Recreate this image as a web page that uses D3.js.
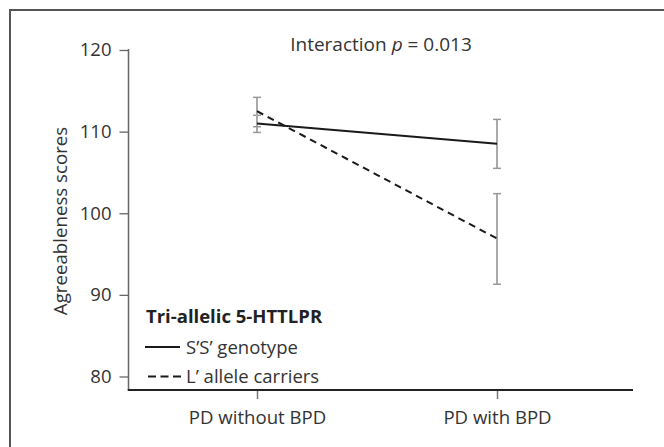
<!DOCTYPE html>
<html><head><meta charset="utf-8">
<script src="https://cdn.jsdelivr.net/npm/d3@7"></script>
<style>
html,body{margin:0;padding:0;background:#fff;}
svg{display:block;font-family:"Open Sans","Noto Sans",sans-serif;}
</style></head>
<body>
<svg id="chart" width="664" height="447"></svg>
<script>
// ---- data ----
const categories = ["PD without BPD", "PD with BPD"];
const seriesNames = ["S\u2019S\u2019 genotype", "L\u2019 allele carriers"];
const ssMeans = [111.0, 108.5];
const ssLow   = [109.9, 105.5];
const ssHigh  = [112.0, 111.5];
const lMeans  = [112.5, 96.9];
const lLow    = [110.6, 91.3];
const lHigh   = [114.2, 102.4];
const yTicks  = [80, 90, 100, 110, 120];
const titleMain = "Interaction ";
const titleP = "p";
const titleRest = " = 0.013";
const yLabel = "Agreeableness scores";
const legendTitle = "Tri-allelic 5-HTTLPR";

const series = [
  {name: seriesNames[0], means: ssMeans, low: ssLow, high: ssHigh, dash: null, legDash: null},
  {name: seriesNames[1], means: lMeans, low: lLow, high: lHigh, dash: "7,5", legDash: "8,4.5"}
];

const svg = d3.select("#chart");
const FONT = '"Open Sans","Noto Sans",sans-serif';

// frame
svg.append("rect").attr("x", 10).attr("y", 10).attr("width", 700).attr("height", 500)
  .attr("fill", "none").attr("stroke", "#555").attr("stroke-width", 2);

const y = d3.scaleLinear().domain([80, 120]).range([376.5, 50]);
const x = d3.scalePoint().domain(categories).range([257, 497]);

const axisX0 = 128.5, axisY0 = 390;

// y axis
const yAxis = svg.append("g").attr("transform", `translate(${axisX0},0)`)
  .call(d3.axisLeft(y).tickValues(yTicks).tickSize(9).tickPadding(8).tickSizeOuter(0));
yAxis.select(".domain").remove();
yAxis.selectAll(".tick line").attr("stroke", "#666").attr("stroke-width", 1.3);
yAxis.selectAll(".tick text").attr("fill", "#333").style("font-size", "18.5px")
  .style("font-family", FONT);
svg.append("line").attr("x1", axisX0).attr("x2", axisX0).attr("y1", 49).attr("y2", axisY0)
  .attr("stroke", "#666").attr("stroke-width", 1.5);

// x axis
const xAxis = svg.append("g").attr("transform", `translate(0,${axisY0})`)
  .call(d3.axisBottom(x).tickSize(9).tickPadding(12).tickSizeOuter(0));
xAxis.select(".domain").remove();
xAxis.selectAll(".tick line").attr("stroke", "#777").attr("stroke-width", 1.5);
xAxis.selectAll(".tick text").attr("fill", "#333").style("font-size", "18.6px")
  .style("font-family", FONT);
svg.append("line").attr("x1", axisX0 - 0.75).attr("x2", 633).attr("y1", axisY0).attr("y2", axisY0)
  .attr("stroke", "#222").attr("stroke-width", 1.8);

// error bars
const eb = svg.append("g");
series.forEach(s => {
  categories.forEach((c, i) => {
    const cx = x(c);
    eb.append("line").attr("x1", cx).attr("x2", cx).attr("y1", y(s.low[i])).attr("y2", y(s.high[i]))
      .attr("stroke", "#aaa").attr("stroke-width", 2);
    [s.low[i], s.high[i]].forEach(v => {
      eb.append("line").attr("x1", cx - 4).attr("x2", cx + 4).attr("y1", y(v)).attr("y2", y(v))
        .attr("stroke", "#999").attr("stroke-width", 1.5);
    });
  });
});

// lines
const line = d3.line().x((d, i) => x(categories[i])).y(d => y(d));
series.forEach(s => {
  svg.append("path").datum(s.means).attr("d", line).attr("fill", "none")
    .attr("stroke", "#1a1a1a").attr("stroke-width", 2)
    .attr("stroke-dasharray", s.dash);
});

// title
const t = svg.append("text").attr("x", 381).attr("y", 51).attr("text-anchor", "middle")
  .attr("fill", "#333").style("font-size", "19px");
t.append("tspan").text(titleMain);
t.append("tspan").attr("font-style", "italic").text(titleP);
t.append("tspan").text(titleRest);

// y label
svg.append("text").attr("transform", "translate(67,221) rotate(-90)").attr("text-anchor", "middle")
  .attr("fill", "#333").style("font-size", "18.7px").text(yLabel);

// legend
const lg = svg.append("g");
lg.append("text").attr("x", 146).attr("y", 323).attr("fill", "#222")
  .style("font-size", "18.5px").style("font-weight", "bold").text(legendTitle);
series.forEach((s, i) => {
  const ly = 347 + i * 29.5;
  lg.append("line").attr("x1", s.legDash ? 148 : 145).attr("x2", s.legDash ? 181 : 180).attr("y1", ly).attr("y2", ly)
    .attr("stroke", "#1a1a1a").attr("stroke-width", 2).attr("stroke-dasharray", s.legDash);
  lg.append("text").attr("x", 186).attr("y", ly + 6.5).attr("fill", "#333")
    .style("font-size", "18.5px").text(s.name);
});
</script>
</body></html>
